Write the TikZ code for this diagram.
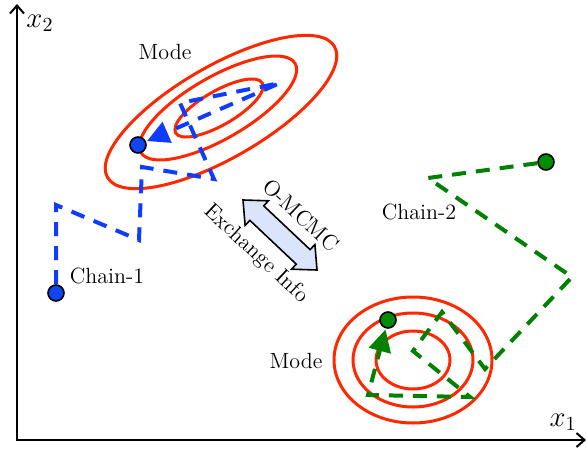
\documentclass[tikz,border=0pt]{standalone}
\usetikzlibrary{arrows.meta}
\definecolor{cblue}{RGB}{15,60,255}
\definecolor{cred}{RGB}{255,40,0}
\definecolor{cgreen}{RGB}{0,128,0}
\definecolor{cdot}{RGB}{15,70,240}
\definecolor{gdot}{RGB}{0,140,0}
\definecolor{arrowfill}{RGB}{218,228,250}
\begin{document}
\begin{tikzpicture}[x=0.5pt,y=-0.5pt,
  every node/.style={font=\fontsize{11}{13}\selectfont, inner sep=0pt},
  axlabel/.style={font=\fontsize{14}{16}\selectfont},
  contour/.style={draw=cred, line width=1.5pt},
  chainline/.style={line width=2pt, dash pattern=on 7pt off 5pt, line join=miter},
  bluechain/.style={chainline, draw=cblue},
  greenchain/.style={chainline, draw=cgreen},
  tiptri/.style={-{Triangle[length=11pt,width=11pt]}, shorten >=0.5pt},
  bdot/.style={circle, draw=black, fill=cdot, minimum size=8pt, line width=0.8pt},
  gdotst/.style={circle, draw=black, fill=gdot, minimum size=8pt, line width=0.8pt},
  axis/.style={line width=1pt, {Straight Barb[length=4pt,width=7pt]}-{Straight Barb[length=4pt,width=7pt]}},
  xchg/.style={draw=black, fill=arrowfill, line width=0.8pt, line join=miter}
]
\useasboundingbox (0,0) rectangle (587,449);

% axes
\coordinate (ytop) at (17,4);
\coordinate (orig) at (17,440);
\coordinate (xend) at (586,440);
\draw[axis] (ytop) -- (orig) -- (xend);
\node[axlabel] (x2) at (40,23) {$x_2$};
\node[axlabel] (x1) at (563,422) {$x_1$};

% mode contours (upper)
\draw[contour, rotate around={30:(221,112)}] (221,112) ellipse (131 and 46);
\draw[contour, rotate around={30:(218,108)}] (218,108) ellipse (89 and 31);
\draw[contour, rotate around={30:(219,108)}] (219,108) ellipse (50 and 17);
\node (mode1) at (165,52) {Mode};

% mode contours (lower)
\draw[contour] (413,360) ellipse (79 and 63);
\draw[contour] (413,360) ellipse (60 and 47);
\draw[contour] (413,360) ellipse (37 and 29);
\node (mode2) at (296,361) {Mode};

% chain 1
\node[bdot] (b1) at (56,293) {};
\node[bdot] (b2) at (138,145) {};
\coordinate (p1) at (56,205);
\coordinate (p2) at (139,240);
\coordinate (p3) at (142,167);
\coordinate (p4) at (214,179);
\coordinate (p5) at (180,103);
\coordinate (p6) at (280,83);
\draw[bluechain, tiptri] (b1) -- (p1) -- (p2) -- (p3) -- (p4) -- (p5) -- (p6) -- (b2);
\node (c1) at (107,276) {Chain-1};

% chain 2
\node[gdotst] (g1) at (546,162) {};
\node[gdotst] (g2) at (388,320) {};
\coordinate (q1) at (428,178);
\coordinate (q2) at (572,277);
\coordinate (q3) at (485,369);
\coordinate (q4) at (442,312);
\coordinate (q5) at (413,351);
\coordinate (q6) at (470,397);
\coordinate (q7) at (368,395);
\draw[greenchain, tiptri] (g1) -- (q1) -- (q2) -- (q3) -- (q4) -- (q5) -- (q6) -- (q7) -- (g2);
\node (c2) at (419,212) {Chain-2};

% exchange arrow
\draw[xchg] (243,200) -- (268.5,200.8) -- (263.7,205.8) -- (310.1,249.6) -- (314.9,244.6)
  -- (317,270) -- (291.5,269.2) -- (296.3,264.2) -- (249.9,220.4) -- (245.1,225.4) -- cycle;
\node[rotate=-43] (om) at (301,215) {O-MCMC};
\node[rotate=-43] (ex) at (256,254) {Exchange Info};
\end{tikzpicture}
\end{document}
